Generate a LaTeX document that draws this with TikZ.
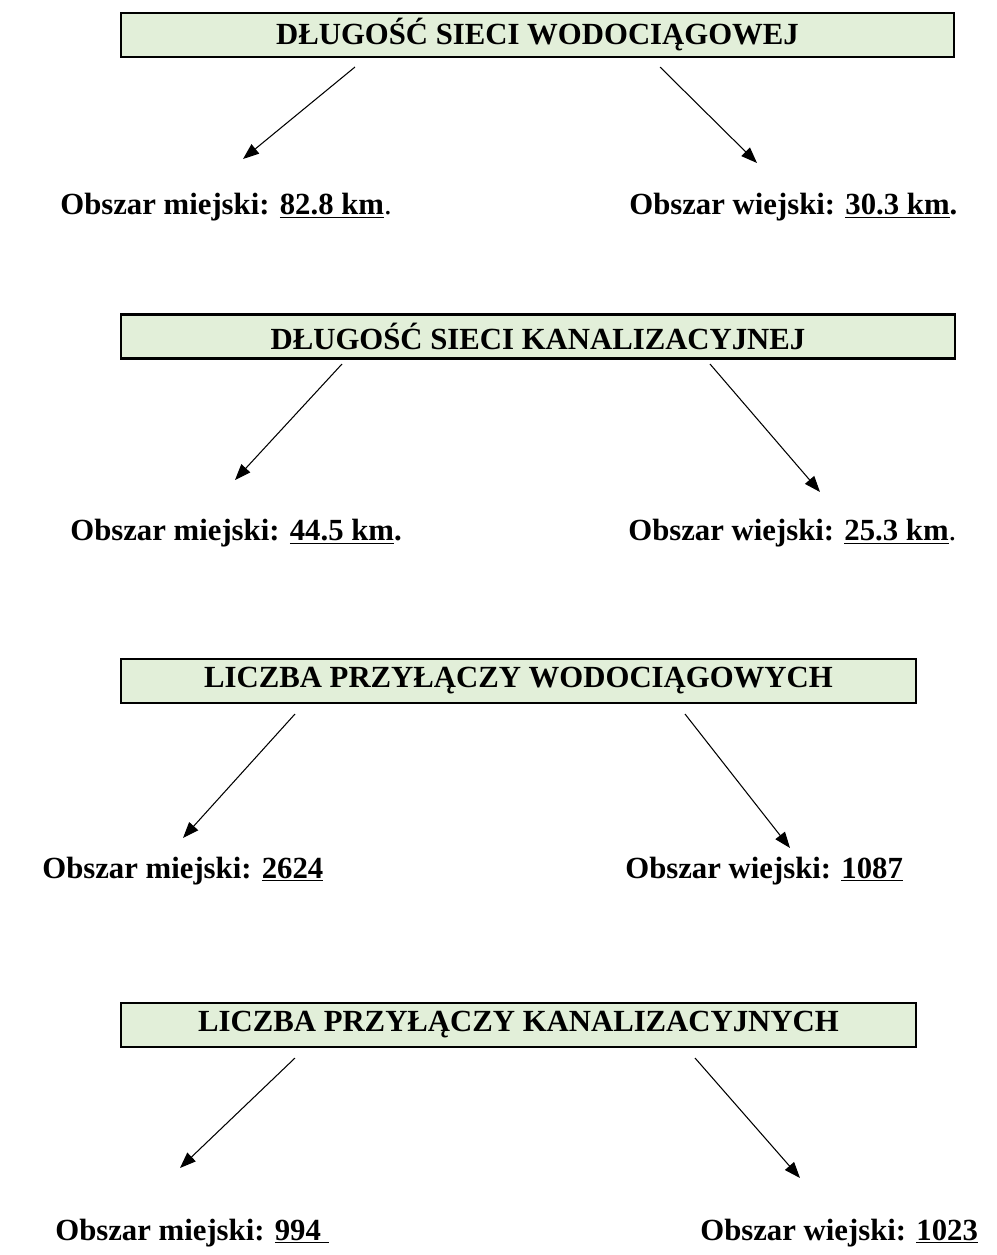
\documentclass[tikz,border=0pt]{standalone}
\usepackage{fontspec}
\setmainfont{Liberation Serif}
\usetikzlibrary{arrows.meta}
\definecolor{boxgreen}{HTML}{E2EFD9}
\tikzset{
  header/.style={draw, line width=1.3pt, fill=boxgreen, inner sep=0pt,
    minimum height=0.88cm, font=\bfseries\fontsize{17.5}{21}\selectfont},
  area/.style={anchor=base west, inner sep=0pt, font=\bfseries\fontsize{17.5}{21}\selectfont},
  arr/.style={-{Triangle[length=0.32cm,width=0.24cm]}, line width=0.6pt}
}
\begin{document}
\begin{tikzpicture}[x=0.02cm,y=-0.02cm]
      \useasboundingbox (0,0) rectangle (997,1255);
      % dlugosc sieci wodociagowej
      \node[header, minimum width=16.66cm] (hdr1) at (537.5,35) {DŁUGOŚĆ SIECI WODOCIĄGOWEJ};
      \node[area] (urb1) at (60,214) {Obszar miejski: \underline{82.8 km}\textmd{.}};
      \node[area] (rur1) at (629,214) {Obszar wiejski: \underline{30.3 km}.};
      \coordinate (s1l) at (355,67);  \coordinate (e1l) at (243,159);
      \coordinate (s1r) at (660,67);  \coordinate (e1r) at (757,163);
      \draw[arr] (s1l) -- (e1l);
      \draw[arr] (s1r) -- (e1r);
      % dlugosc sieci kanalizacyjnej
      \node[header, minimum width=16.68cm] (hdr2) at (538,336.5) {DŁUGOŚĆ SIECI KANALIZACYJNEJ};
      \node[area] (urb2) at (70,540) {Obszar miejski: \underline{44.5 km}.};
      \node[area] (rur2) at (628,540) {Obszar wiejski: \underline{25.3 km}\textmd{.}};
      \coordinate (s2l) at (342,364); \coordinate (e2l) at (235,480);
      \coordinate (s2r) at (710,364); \coordinate (e2r) at (820,492);
      \draw[arr] (s2l) -- (e2l);
      \draw[arr] (s2r) -- (e2r);
      % liczba przylaczy wodociagowych
      \node[header, minimum width=15.9cm] (hdr3) at (518.5,681) {LICZBA PRZYŁĄCZY WODOCIĄGOWYCH};
      \node[area] (urb3) at (42,878) {Obszar miejski: \underline{2624}};
      \node[area] (rur3) at (625,878) {Obszar wiejski: \underline{1087}};
      \coordinate (s3l) at (295,714); \coordinate (e3l) at (183,838);
      \coordinate (s3r) at (685,714); \coordinate (e3r) at (790,848);
      \draw[arr] (s3l) -- (e3l);
      \draw[arr] (s3r) -- (e3r);
      % liczba przylaczy kanalizacyjnych
      \node[header, minimum width=15.9cm] (hdr4) at (518.5,1025) {LICZBA PRZYŁĄCZY KANALIZACYJNYCH};
      \node[area] (urb4) at (55,1240) {Obszar miejski: \underline{994\ }};
      \node[area] (rur4) at (700,1240) {Obszar wiejski: \underline{1023}};
      \coordinate (s4l) at (295,1058); \coordinate (e4l) at (180,1168);
      \coordinate (s4r) at (695,1058); \coordinate (e4r) at (800,1178);
      \draw[arr] (s4l) -- (e4l);
      \draw[arr] (s4r) -- (e4r);
    \end{tikzpicture}
\end{document}
